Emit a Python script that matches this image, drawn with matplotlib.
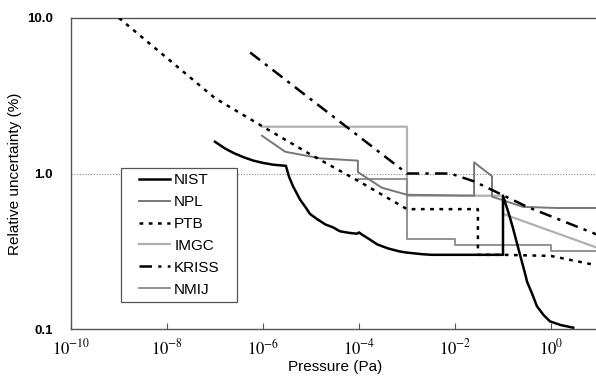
import matplotlib
matplotlib.use('Agg')
import matplotlib.pyplot as plt
from matplotlib.patches import Rectangle

plt.rcParams['font.family'] = ['Liberation Sans', 'DejaVu Sans']
plt.rcParams['mathtext.fontset'] = 'stix'

# Relative uncertainty (%) vs pressure (Pa)
nist_p = [1e-7, 1.6e-7, 2.5e-7, 4e-7, 6.3e-7, 1e-6, 1.6e-6, 3.0e-6, 3.5e-6, 4.2e-6,
          5.0e-6, 5.9e-6, 7.9e-6, 9.5e-6, 1.33e-5, 2e-5, 2.9e-5, 4e-5, 6.3e-5, 9.1e-5,
          1.0e-4, 1.15e-4, 1.6e-4, 2.4e-4, 4e-4, 7.1e-4, 1e-3, 2e-3, 3.2e-3,
          0.1, 0.1, 0.13, 0.16, 0.22, 0.28, 0.32, 0.4, 0.51, 0.7, 0.95, 1.6, 2.9]
nist_u = [1.6, 1.45, 1.35, 1.27, 1.21, 1.17, 1.14, 1.12, 0.95, 0.83,
          0.75, 0.68, 0.6, 0.55, 0.51, 0.47, 0.45, 0.425, 0.415, 0.41,
          0.418, 0.405, 0.38, 0.35, 0.33, 0.315, 0.31, 0.303, 0.30,
          0.30, 0.72, 0.56, 0.45, 0.31, 0.235, 0.2, 0.17, 0.14, 0.123, 0.112, 0.106, 0.102]

npl_p = [9.5e-7, 2.9e-6, 1.6e-5, 9.5e-5, 9.5e-5, 3.0e-4, 1e-3, 2.5e-2, 2.5e-2,
         5.9e-2, 5.9e-2, 0.26, 1.33, 10]
npl_u = [1.75, 1.38, 1.25, 1.21, 1.02, 0.81, 0.73, 0.72, 1.18,
         0.96, 0.71, 0.61, 0.60, 0.60]

ptb_p = [1e-9, 1e-7, 1e-6, 1e-5, 1e-4, 1e-3, 3e-2, 3e-2, 0.1, 1, 10]
ptb_u = [10, 3.05, 2.0, 1.32, 0.89, 0.59, 0.59, 0.3, 0.3, 0.295, 0.255]

imgc_p = [9.5e-7, 1e-3, 1e-3, 0.1, 0.1, 10]
imgc_u = [2.0, 2.0, 0.72, 0.72, 0.55, 0.33]

kriss_p = [5.4e-7, 1e-3, 8e-3, 2.5e-2, 0.32, 10]
kriss_u = [6.0, 1.0, 1.0, 0.89, 0.61, 0.40]

nmij_p = [9.5e-5, 1e-3, 1e-3, 1e-2, 1e-2, 1, 1, 10]
nmij_u = [0.92, 0.92, 0.38, 0.38, 0.345, 0.345, 0.316, 0.316]

xticks = [1e-10, 1e-8, 1e-6, 1e-4, 1e-2, 1e0]
xticklabels = ['$10^{-10}$', '$10^{-8}$', '$10^{-6}$', '$10^{-4}$', '$10^{-2}$', '$10^{0}$']
yticks = [0.1, 1.0, 10.0]
yticklabels = ['0.1', '1.0', '10.0']

fig = plt.figure(figsize=(5.96, 3.76), dpi=100)
ax = fig.add_axes([71 / 596, 1 - 329 / 376, 528 / 596, 311 / 376])

ax.axhline(1.0, color='#888888', linestyle=(0, (1, 1.5)), linewidth=0.8, zorder=1)

ax.plot(nist_p, nist_u, color='black', linewidth=1.8, label='NIST', zorder=5)
ax.plot(npl_p, npl_u, color='#777777', linewidth=1.4, label='NPL', zorder=4)
ax.plot(ptb_p, ptb_u, color='black', linewidth=1.8, linestyle=(0, (1.5, 2.2)), label='PTB', zorder=5)
ax.plot(imgc_p, imgc_u, color='#b0b0b0', linewidth=1.6, label='IMGC', zorder=3)
ax.plot(kriss_p, kriss_u, color='black', linewidth=1.8, linestyle=(0, (5, 2.5, 1.3, 2.5)),
        label='KRISS', zorder=5)
ax.plot(nmij_p, nmij_u, color='#8a8a8a', linewidth=1.3, label='NMIJ', zorder=3)

ax.set_xscale('log')
ax.set_yscale('log')
ax.set_xlim(1e-10, 1e1)
ax.set_ylim(0.1, 10.0)

ax.set_xticks(xticks)
ax.set_xticklabels(xticklabels, fontsize=12)
ax.xaxis.set_minor_locator(matplotlib.ticker.NullLocator())
ax.yaxis.set_minor_locator(matplotlib.ticker.NullLocator())
ax.set_yticks(yticks)
ax.set_yticklabels(yticklabels, fontsize=9.5, fontweight='bold')
ax.tick_params(axis='x', direction='in', length=4, width=0.8, color='#555555', pad=6)
ax.tick_params(axis='y', length=0, pad=13)

for side in ['left', 'bottom', 'top']:
    ax.spines[side].set_color('#555555')
    ax.spines[side].set_linewidth(1.0)
ax.spines['right'].set_visible(False)

ax.set_xlabel('Pressure (Pa)', fontsize=11, labelpad=2)
ax.set_ylabel('Relative uncertainty (%)', fontsize=11, labelpad=4)

# legend box
ax.add_patch(Rectangle((50 / 528, 27 / 311), 116 / 528, 134 / 311, transform=ax.transAxes,
                       facecolor='white', edgecolor='#555555', linewidth=0.9, zorder=8))
leg = ax.legend(loc='upper left', bbox_to_anchor=(68 / 528, 156 / 311), frameon=False,
                fontsize=11, handlelength=2.0, handletextpad=0.3, labelspacing=0.52,
                borderpad=0, borderaxespad=0)
leg.set_zorder(9)

fig.savefig('out.png', dpi=100)
